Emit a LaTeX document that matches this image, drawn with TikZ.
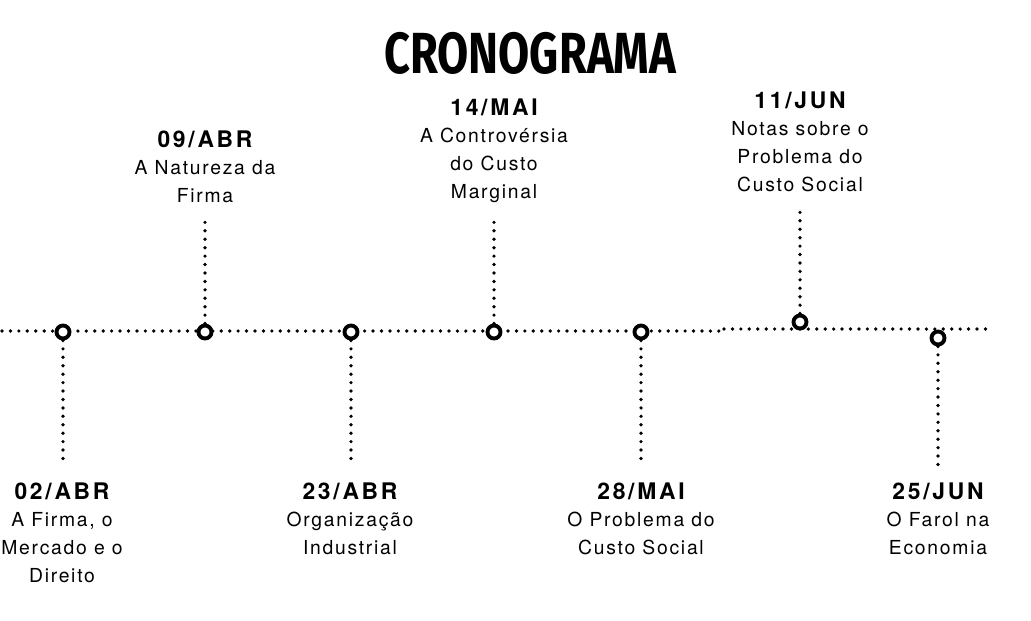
\documentclass[tikz,border=0pt]{standalone}
\usepackage{fontspec}
\setmainfont{TeX Gyre Heros}
\newfontfamily\titlefont{Fira Sans}
\newfontfamily\datefont[LetterSpace=12]{TeX Gyre Heros}
\newfontfamily\topicfont[LetterSpace=9]{TeX Gyre Heros}

\begin{document}
\begin{tikzpicture}[
        x=0.02cm, y=-0.02cm,
        track/.style={line width=2.1pt, line cap=round, dash pattern=on 0pt off 4.8pt},
        stage/.style={circle, draw, line width=2.2pt, fill=white, minimum size=0.26cm, inner sep=0pt},
        datelbl/.style={font=\datefont\fontsize{13}{15}\selectfont\bfseries, anchor=base, inner sep=0pt},
        topic/.style={font=\topicfont\fontsize{11}{15.9}\selectfont, align=center, anchor=base, inner sep=0pt}
    ]
        \useasboundingbox (0,0) rectangle (1031,620);

        % Title
        \node[font=\titlefont\bfseries\fontsize{33}{36}\selectfont] (title) at (530,53) {\scalebox{0.78}[1]{CRONOGRAMA}};

        % Main line
        \coordinate (lineW) at (2,331);
        \coordinate (lineM) at (719,331);
        \coordinate (lineN) at (724,329);
        \coordinate (lineE) at (990,329);
        \draw[track] (lineW) -- (lineM);
        \draw[track] (lineN) -- (lineE);

        % Stages
        \node[stage] (abr02) at (63,332) {};
        \node[stage] (abr09) at (205,332) {};
        \node[stage] (abr23) at (351,332) {};
        \node[stage] (mai14) at (494,332) {};
        \node[stage] (mai28) at (641,332) {};
        \node[stage] (jun11) at (800,322) {};
        \node[stage] (jun25) at (938,338) {};

        % Stems
        \coordinate (abr02end) at (63,464);
        \coordinate (abr09end) at (205,222);
        \coordinate (abr23end) at (351,464);
        \coordinate (mai14end) at (494,222);
        \coordinate (mai28end) at (641,464);
        \coordinate (jun11end) at (800,212);
        \coordinate (jun25end) at (938,467);
        \draw[track] (abr02.south) -- (abr02end);
        \draw[track] (abr09.north) -- (abr09end);
        \draw[track] (abr23.south) -- (abr23end);
        \draw[track] (mai14.north) -- (mai14end);
        \draw[track] (mai28.south) -- (mai28end);
        \draw[track] (jun11.north) -- (jun11end);
        \draw[track] (jun25.south) -- (jun25end);

        % Labels (topic nodes sit on the baseline of their last line)
        \node[datelbl] (abr02date) at (62,499) {02/ABR};
        \node[topic] (abr02text) at (62,582) {A Firma, o\\Mercado e o\\Direito};
        \node[datelbl] (abr09date) at (205,147) {09/ABR};
        \node[topic] (abr09text) at (205,202) {A Natureza da\\Firma};
        \node[datelbl] (abr23date) at (350,499) {23/ABR};
        \node[topic] (abr23text) at (350,554) {Organização\\Industrial};
        \node[datelbl] (mai14date) at (494,115) {14/MAI};
        \node[topic] (mai14text) at (494,198) {A Controvérsia\\do Custo\\Marginal};
        \node[datelbl] (mai28date) at (641,499) {28/MAI};
        \node[topic] (mai28text) at (641,554) {O Problema do\\Custo Social};
        \node[datelbl] (jun11date) at (800,108) {11/JUN};
        \node[topic] (jun11text) at (800,191) {Notas sobre o\\Problema do\\Custo Social};
        \node[datelbl] (jun25date) at (938,499) {25/JUN};
        \node[topic] (jun25text) at (938,554) {O Farol na\\Economia};
    \end{tikzpicture}
\end{document}
